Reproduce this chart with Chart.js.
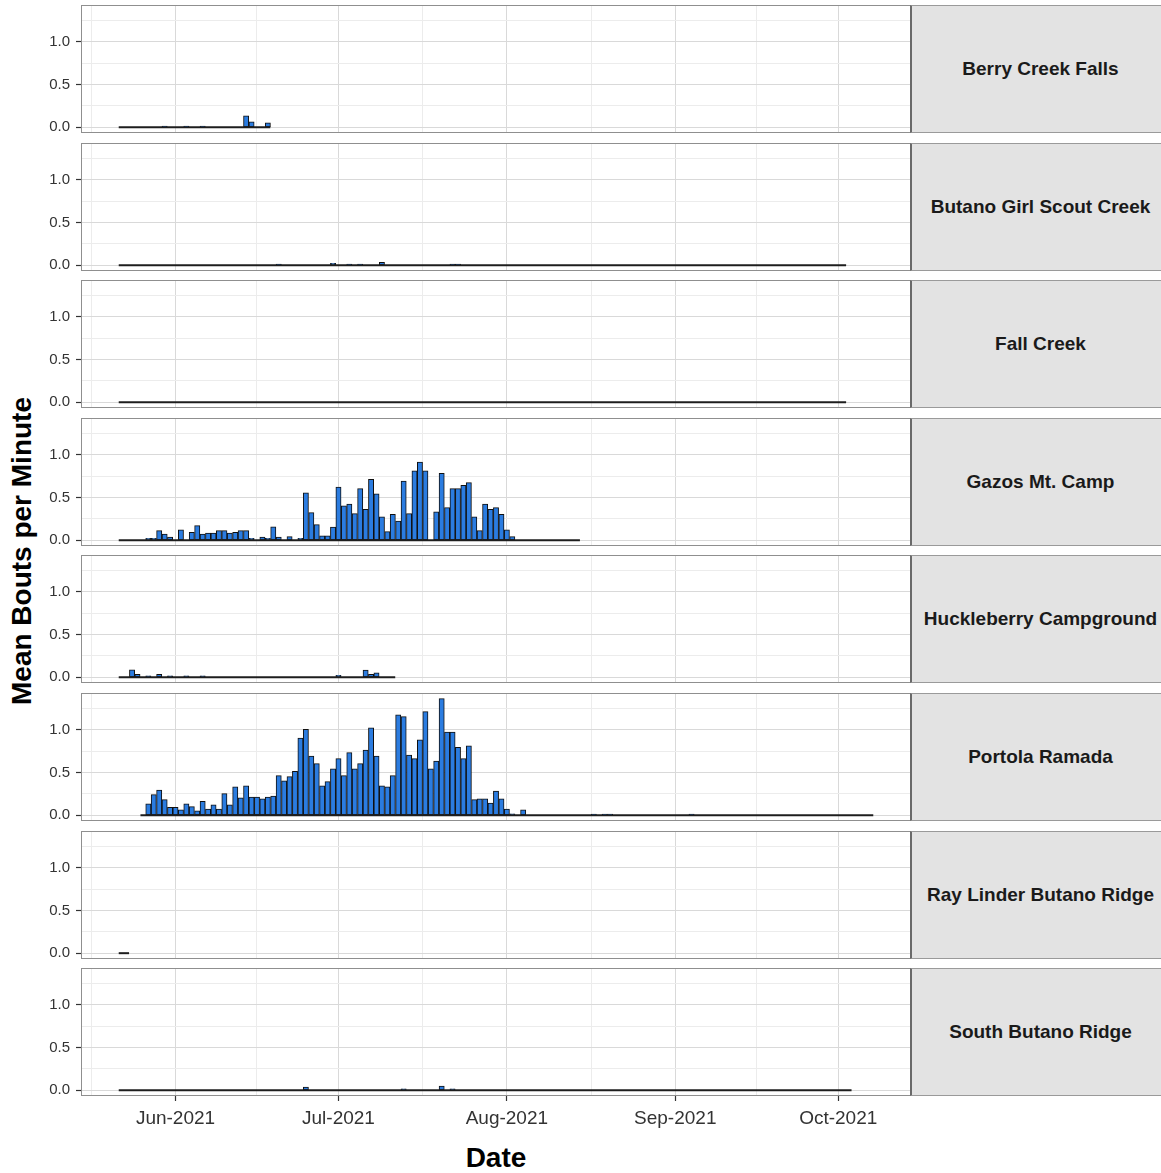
<!DOCTYPE html>
<html>
<head>
<meta charset="utf-8">
<script src="https://cdn.jsdelivr.net/npm/chart.js@4.4.1/dist/chart.umd.min.js"></script>
<style>
	html, body { margin: 0; padding: 0; background: #fff; overflow: hidden; }
	#wrap { position: relative; width: 1161px; height: 1173px; overflow: hidden; font-family: 'Liberation Sans', Arial, sans-serif; }
	#wrap canvas { position: absolute; left: 0; }
	.strip {
		position: absolute; left: 910px; width: 260px; box-sizing: border-box;
		background: #e3e3e3; border: 1px solid #9a9a9a; border-left: 2px solid #6a6a6a;
		display: flex; align-items: center; justify-content: center;
		font-weight: bold; font-size: 19px; color: #1a1a1a; white-space: nowrap;
	}
	.title { position: absolute; font-weight: bold; font-size: 28px; color: #000; white-space: nowrap; }
	#ytitle { left: 22px; top: 551px; transform: translate(-50%, -50%) rotate(-90deg); }
	#xtitle { left: 496px; top: 1158px; transform: translate(-50%, -50%); }
</style>
</head>
<body>
<div id="wrap">
	<div class="title" id="ytitle">Mean Bouts per Minute</div>
	<div class="title" id="xtitle">Date</div>
</div>
<script>
// facet labels, top to bottom
const sites = ['Berry Creek Falls', 'Butano Girl Scout Creek', 'Fall Creek', 'Gazos Mt. Camp',
	'Huckleberry Campground', 'Portola Ramada', 'Ray Linder Butano Ridge', 'South Butano Ridge'];

// recorder deployment (every day in between is a bar, mostly zero)
const deployFrom = ['2021-05-22', '2021-05-22', '2021-05-22', '2021-05-22', '2021-05-22', '2021-05-26', '2021-05-22', '2021-05-22'];
const deployTo = ['2021-06-18', '2021-10-02', '2021-10-02', '2021-08-14', '2021-07-11', '2021-10-07', '2021-05-23', '2021-10-03'];

// daily mean bouts per minute, starting at the *From date
const berryFrom = '2021-05-30';
const berryBouts = [0.01, 0, 0, 0, 0.01, 0, 0, 0.01, 0, 0, 0, 0, 0, 0, 0, 0.13, 0.06, 0, 0, 0.05];

const butanoFrom = '2021-06-20';
const butanoBouts = [0.01, 0, 0, 0, 0, 0, 0, 0, 0, 0, 0.02, 0, 0, 0.01, 0, 0.01, 0, 0, 0, 0.03,
	0, 0, 0, 0, 0, 0, 0, 0, 0, 0, 0, 0, 0.01, 0.01];

const fallFrom = '2021-05-22';
const fallBouts = [];

const gazosFrom = '2021-05-27';
const gazosBouts = [
	0.02, 0.02, 0.11, 0.07, 0.035, 0, 0.12, 0, 0.09, 0.17,
	0.07, 0.08, 0.08, 0.11, 0.11, 0.08, 0.09, 0.11, 0.11, 0.02,
	0, 0.035, 0.02, 0.155, 0.035, 0, 0.04, 0, 0.02, 0.55,
	0.32, 0.18, 0.05, 0.05, 0.15, 0.62, 0.40, 0.42, 0.31, 0.60,
	0.36, 0.71, 0.54, 0.27, 0.10, 0.30, 0.22, 0.69, 0.31, 0.81,
	0.91, 0.81, 0, 0.33, 0.78, 0.38, 0.60, 0.60, 0.64, 0.67,
	0.27, 0.11, 0.42, 0.36, 0.38, 0.30, 0.12, 0.04
];

const huckFrom = '2021-05-24';
const huckBouts = [
	0.085, 0.03, 0, 0.015, 0, 0.03, 0, 0.015, 0, 0, 0.015, 0, 0, 0.015,
	0, 0, 0, 0, 0, 0, 0, 0, 0, 0, 0, 0, 0, 0, 0, 0, 0, 0, 0, 0, 0, 0, 0, 0,
	0.02, 0, 0, 0, 0, 0.08, 0.03, 0.05
];

const portolaFrom = '2021-05-27';
const portolaBouts = [
	0.13, 0.24, 0.29, 0.18, 0.09, 0.09, 0.06, 0.13, 0.10, 0.05,
	0.16, 0.07, 0.12, 0.07, 0.25, 0.12, 0.33, 0.20, 0.34, 0.21,
	0.21, 0.19, 0.21, 0.22, 0.46, 0.40, 0.45, 0.51, 0.90, 1.00,
	0.69, 0.60, 0.34, 0.39, 0.54, 0.66, 0.46, 0.73, 0.54, 0.60,
	0.76, 1.02, 0.69, 0.34, 0.33, 0.46, 1.17, 1.15, 0.70, 0.66,
	0.88, 1.21, 0.54, 0.63, 1.36, 0.97, 0.97, 0.79, 0.66, 0.81,
	0.18, 0.19, 0.19, 0.14, 0.28, 0.19, 0.07, 0.015, 0, 0.06,
	0, 0, 0, 0, 0, 0, 0, 0, 0, 0,
	0, 0, 0.01, 0, 0.01, 0.01, 0, 0, 0, 0,
	0, 0, 0, 0, 0, 0, 0, 0, 0, 0,
	0.01
];

const rayFrom = '2021-05-22';
const rayBouts = [];

const southFrom = '2021-06-25';
const southBouts = [0.035, 0, 0, 0, 0, 0, 0, 0, 0, 0, 0, 0, 0, 0, 0, 0, 0, 0, 0.015,
	0, 0, 0, 0, 0, 0, 0.045, 0, 0.015];

const boutsFrom = [berryFrom, butanoFrom, fallFrom, gazosFrom, huckFrom, portolaFrom, rayFrom, southFrom];
const bouts = [berryBouts, butanoBouts, fallBouts, gazosBouts, huckBouts, portolaBouts, rayBouts, southBouts];

// axis breaks
const monthTicks = ['2021-06-01', '2021-07-01', '2021-08-01', '2021-09-01', '2021-10-01'];
const monthLabels = ['Jun-2021', 'Jul-2021', 'Aug-2021', 'Sep-2021', 'Oct-2021'];
const yMajor = [0, 0.5, 1.0];
const yMinor = [0.25, 0.75, 1.25];

let facet = {
	wrap: document.getElementById('wrap'),
	top: 5,
	step: 137.6,
	height: 128,
	width: 911,
	axis: 81,
	bottom: 40,
	font: "'Liberation Sans', Arial, sans-serif",
	colours: {
		bar: '#2b7ce0',
		outline: '#101010',
		base: '#1e1e1e',
		major: '#d9d9d9',
		minor: '#ececec',
		tick: '#333',
		border: '#8f8f8f'
	}
};

facet.day = function(s) {
	let p = s.split('-');
	return (Date.UTC(+p[0], p[1] - 1, +p[2]) - Date.UTC(2021, 4, 1)) / 86400000;
};

// ggplot style 5% expansion of the data range
let firstEdge = Math.min(...deployFrom.map(facet.day)) - 0.45,
	lastEdge = Math.max(...deployTo.map(facet.day)) + 0.45,
	peak = Math.max(...bouts.map(b => b.length ? Math.max(...b) : 0));

facet.x = { min: firstEdge - 0.05 * (lastEdge - firstEdge), max: lastEdge + 0.05 * (lastEdge - firstEdge) };
facet.y = { min: -0.05 * peak, max: peak * 1.05 };

let majorX = monthTicks.map(facet.day),
	minorX = [];

[facet.day('2021-05-01')].concat(majorX).forEach(function(d, i, all) {
	if (i) {
		minorX.push((all[i - 1] + d) / 2);
	}
});
minorX.push(majorX[majorX.length - 1] + 15.5);
minorX = minorX.filter(d => d > facet.x.min && d < facet.x.max);

facet.isMajorX = v => majorX.indexOf(v) !== -1;
facet.isMajorY = v => yMajor.indexOf(v) !== -1;

const panelBorder = {
	id: 'panelBorder',
	afterDraw: function(chart) {
		let a = chart.chartArea,
			ctx = chart.ctx;

		ctx.save();
		ctx.strokeStyle = facet.colours.border;
		ctx.lineWidth = 1;
		ctx.strokeRect(a.left + 0.5, a.top + 0.5, a.right - a.left - 1, a.bottom - a.top - 1);
		ctx.restore();
	}
};

facet.draw = function(i) {
	let isLast = i === sites.length - 1,
		from = facet.day(boutsFrom[i]),
		panelTop = Math.round(facet.top + i * facet.step),
		canvas = document.createElement('canvas'),
		strip = document.createElement('div');

	canvas.width = facet.width;
	canvas.height = facet.height + (isLast ? facet.bottom : 0);
	canvas.style.top = panelTop + 'px';
	facet.wrap.appendChild(canvas);

	strip.className = 'strip';
	strip.style.top = panelTop + 'px';
	strip.style.height = facet.height + 'px';
	strip.textContent = sites[i];
	facet.wrap.appendChild(strip);

	new Chart(canvas, {
		type: 'bar',
		data: {
			datasets: [{
				type: 'line',
				data: [
					{ x: facet.day(deployFrom[i]) - 0.45, y: 0 },
					{ x: facet.day(deployTo[i]) + 0.45, y: 0 }
				],
				borderColor: facet.colours.base,
				borderWidth: 2,
				pointRadius: 0
			}, {
				type: 'bar',
				data: bouts[i].map((v, k) => ({ x: from + k, y: v })),
				backgroundColor: facet.colours.bar,
				borderColor: facet.colours.outline,
				borderWidth: 1,
				borderSkipped: false,
				inflateAmount: 0.5,
				barPercentage: 0.9,
				categoryPercentage: 1
			}]
		},
		options: {
			responsive: false,
			devicePixelRatio: 1,
			animation: false,
			layout: { padding: 0 },
			plugins: {
				legend: { display: false },
				tooltip: { enabled: false }
			},
			scales: {
				x: {
					type: 'linear',
					offset: false,
					min: facet.x.min,
					max: facet.x.max,
					afterBuildTicks: function(scale) {
						scale.ticks = majorX.concat(minorX).sort((a, b) => a - b).map(v => ({ value: v }));
					},
					afterFit: function(scale) {
						scale.height = isLast ? facet.bottom : 0;
						scale.paddingLeft = 0;
						scale.paddingRight = 0;
					},
					border: { display: false },
					grid: {
						offset: false,
						color: c => c.tick && facet.isMajorX(c.tick.value) ? facet.colours.major : facet.colours.minor,
						lineWidth: 1,
						drawTicks: isLast,
						tickLength: 5,
						tickWidth: 1.2,
						tickColor: c => c.tick && facet.isMajorX(c.tick.value) ? facet.colours.tick : 'rgba(0,0,0,0)'
					},
					ticks: {
						display: isLast,
						autoSkip: false,
						maxRotation: 0,
						minRotation: 0,
						padding: 6,
						color: facet.colours.tick,
						font: { family: facet.font, size: 19 },
						callback: v => facet.isMajorX(v) ? monthLabels[majorX.indexOf(v)] : ''
					}
				},
				y: {
					min: facet.y.min,
					max: facet.y.max,
					afterBuildTicks: function(scale) {
						scale.ticks = yMajor.concat(yMinor).sort((a, b) => a - b).map(v => ({ value: v }));
					},
					afterFit: function(scale) {
						scale.width = facet.axis;
						scale.paddingTop = 0;
						scale.paddingBottom = 0;
					},
					border: { display: false },
					grid: {
						color: c => c.tick && facet.isMajorY(c.tick.value) ? facet.colours.major : facet.colours.minor,
						lineWidth: 1,
						tickLength: 5,
						tickWidth: 1.2,
						tickColor: c => c.tick && facet.isMajorY(c.tick.value) ? facet.colours.tick : 'rgba(0,0,0,0)'
					},
					ticks: {
						autoSkip: false,
						padding: 6,
						color: facet.colours.tick,
						font: { family: facet.font, size: 15 },
						callback: v => facet.isMajorY(v) ? v.toFixed(1) : ''
					}
				}
			}
		},
		plugins: [panelBorder]
	});
};

sites.forEach(function(site, i) {
	facet.draw(i);
});
</script>
</body>
</html>
